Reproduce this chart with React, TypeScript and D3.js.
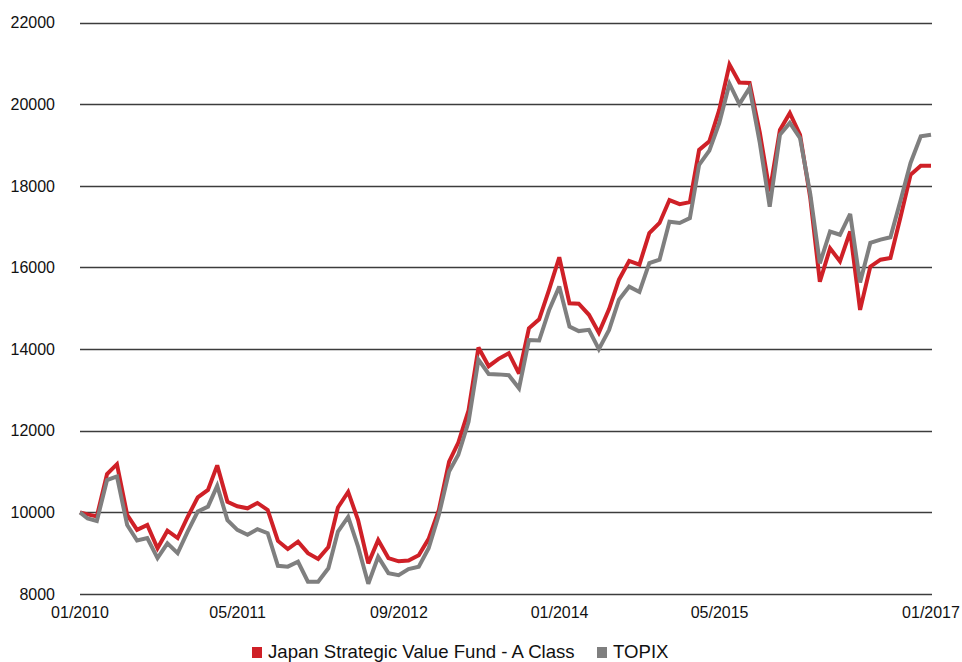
import React from "react";
import * as d3 from "d3";

// Series values (index 0 = launch, then month-ends Jan 2010 .. Jan 2017)
const fundValues: number[] = [
  10000, 9950, 9900, 10940, 11180, 9940, 9570, 9690, 9120, 9550,
  9370, 9880, 10370, 10550, 11150, 10260, 10150, 10100, 10230, 10060,
  9300, 9100, 9280, 9000, 8860, 9150, 10120, 10500, 9810, 8750,
  9320, 8880, 8800, 8820, 8950, 9350, 10060, 11240, 11710, 12500,
  14040, 13580, 13760, 13900, 13400, 14510, 14730, 15450, 16250, 15120,
  15110, 14840, 14400, 14980, 15700, 16160, 16070, 16840, 17090, 17650,
  17550, 17600, 18880, 19090, 19860, 20970, 20530, 20520, 19300, 17860,
  19370, 19780, 19250, 17700, 15650, 16470, 16150, 16880, 14960, 16020,
  16190, 16230, 17250, 18270, 18490, 18490,
];

const topixValues: number[] = [
  10000, 9850, 9790, 10790, 10880, 9690, 9310, 9370, 8880, 9240,
  9000, 9520, 10020, 10140, 10650, 9810, 9570, 9450, 9590, 9490,
  8690, 8670, 8790, 8300, 8300, 8630, 9530, 9890, 9160, 8250,
  8910, 8510, 8460, 8610, 8670, 9120, 9940, 11000, 11410, 12220,
  13740, 13390, 13380, 13360, 13040, 14220, 14210, 14950, 15530, 14550,
  14440, 14470, 14000, 14470, 15210, 15530, 15400, 16105, 16190, 17120,
  17090, 17210, 18515, 18860, 19537, 20500, 20000, 20400, 19050, 17490,
  19250, 19540, 19170, 17800, 16100, 16880, 16800, 17310, 15630, 16600,
  16680, 16740, 17650, 18560, 19210, 19250,
];

// Dates: launch date then month-ends
const startDate = new Date(2010, 0, 8);
const dates: Date[] = [startDate].concat(
  d3.range(fundValues.length - 1).map((k) => new Date(2010, k + 1, 0))
);

const yTicks: number[] = [8000, 10000, 12000, 14000, 16000, 18000, 20000, 22000];
const xTickDates: Date[] = [
  startDate,
  new Date(2011, 4, 1),
  new Date(2012, 8, 1),
  new Date(2014, 0, 1),
  new Date(2015, 4, 1),
  dates[dates.length - 1],
];

const seriesNames: string[] = ["Japan Strategic Value Fund - A Class", "TOPIX"];
const seriesColors: string[] = ["#cf2027", "#7f7f7f"];

const W = 962;
const H = 662;
const FONT = "Arial, 'Liberation Sans', Helvetica, sans-serif";

export default function App() {
  const x = d3
    .scaleTime()
    .domain([dates[0], dates[dates.length - 1]])
    .range([80, 931]);
  const y = d3.scaleLinear().domain([8000, 22000]).range([594, 22.5]);
  const fmt = d3.timeFormat("%m/%Y");

  const lineGen = (vals: number[]) =>
    d3
      .line<number>()
      .x((_, i) => x(dates[i]))
      .y((v) => y(v))(vals) || "";

  const series = [fundValues, topixValues];

  return (
    <svg
      width={W}
      height={H}
      style={{ position: "absolute", left: 0, top: 0, background: "#fff" }}
      fontFamily={FONT}
    >
      <rect x={0} y={0} width={W} height={H} fill="#fff" />
      {yTicks.map((t) => (
        <g key={t}>
          <line
            x1={80}
            x2={932}
            y1={Math.round(y(t)) + 0.5}
            y2={Math.round(y(t)) + 0.5}
            stroke="#3c3c3c"
            strokeWidth={1.3}
          />
          <text
            x={55}
            y={y(t)}
            dy="0.36em"
            textAnchor="end"
            fontSize={16}
            fill="#111"
          >
            {t}
          </text>
        </g>
      ))}
      {xTickDates.map((d, i) => (
        <text
          key={i}
          x={x(d)}
          y={618}
          textAnchor="middle"
          fontSize={16}
          fill="#111"
        >
          {fmt(d)}
        </text>
      ))}
      {series.map((vals, si) => (
        <path
          key={si}
          d={lineGen(vals)}
          fill="none"
          stroke={seriesColors[si]}
          strokeWidth={4}
          strokeLinejoin="miter"
          strokeMiterlimit={3}
        />
      ))}
      <g>
        <rect x={252} y={647} width={10} height={11} fill={seriesColors[0]} />
        <text x={268} y={657.5} fontSize={18.6} fill="#111">
          {seriesNames[0]}
        </text>
        <rect x={597} y={647} width={10} height={11} fill={seriesColors[1]} />
        <text x={613} y={657.5} fontSize={18.6} fill="#111">
          {seriesNames[1]}
        </text>
      </g>
    </svg>
  );
}
